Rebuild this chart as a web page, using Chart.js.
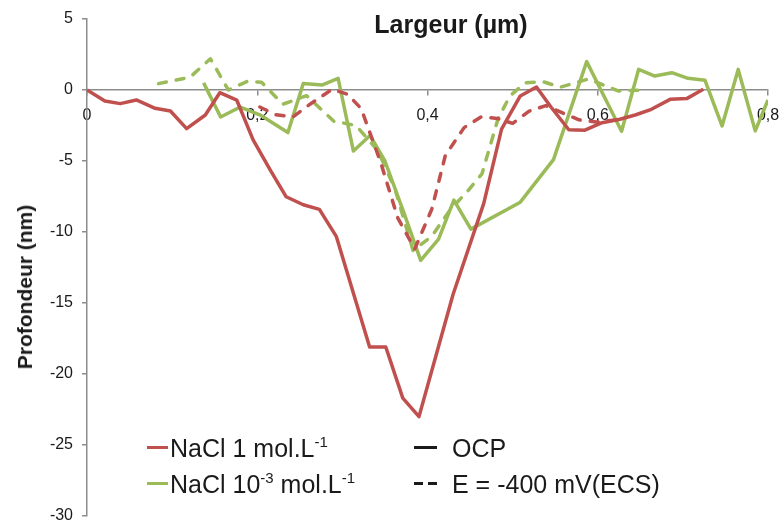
<!DOCTYPE html>
<html>
<head>
<meta charset="utf-8">
<script src="https://cdn.jsdelivr.net/npm/chart.js@4"></script>
<style>
    body { margin: 0; background: #fff; }
    #wrap { position: relative; width: 779px; height: 520px; font-family: "Liberation Sans", Arial, sans-serif; color: #1a1a1a; }
    #profil { position: absolute; left: 0; top: 0; }
    .titre { position: absolute; font-weight: bold; white-space: nowrap; }
    #titreX { left: 451px; top: 24px; font-size: 25px; transform: translate(-50%, -50%); }
    #titreY { left: 25px; top: 287px; font-size: 21px; transform: translate(-50%, -50%) rotate(-90deg); }
    .leg { position: absolute; font-size: 25px; white-space: nowrap; line-height: 1; transform: translateY(-50%); }
    .leg sup { font-size: 15px; vertical-align: 10px; line-height: 0; }
    .trait { position: absolute; height: 0; }
</style>
</head>
<body>
<div id="wrap">
    <canvas id="profil" width="779" height="520"></canvas>
    <div class="titre" id="titreX">Largeur (µm)</div>
    <div class="titre" id="titreY">Profondeur (nm)</div>

    <div class="trait" style="left:147px; top:446px; width:21px; border-top:3.5px solid #C0504D;"></div>
    <div class="leg" style="left:170px; top:448px;">NaCl 1 mol.L<sup>-1</sup></div>
    <div class="trait" style="left:147px; top:482px; width:21px; border-top:3.5px solid #9BBB59;"></div>
    <div class="leg" style="left:170px; top:484px;">NaCl 10<sup>-3</sup> mol.L<sup>-1</sup></div>

    <div class="trait" style="left:414px; top:446px; width:23px; border-top:3px solid #1a1a1a;"></div>
    <div class="leg" style="left:452px; top:448px;">OCP</div>
    <div class="trait" style="left:414px; top:482px; width:9px; border-top:3px solid #1a1a1a;"></div>
    <div class="trait" style="left:428px; top:482px; width:9px; border-top:3px solid #1a1a1a;"></div>
    <div class="leg" style="left:452px; top:484px;">E = -400 mV(ECS)</div>
</div>

<script>
// ============== DONNEES ==============

// NaCl 1 mol/L - OCP (trait plein rouge)
const naclFortOcpX = [0, 0.021, 0.039, 0.058, 0.080, 0.098, 0.117, 0.139, 0.156, 0.176, 0.195, 0.215, 0.234, 0.254, 0.273, 0.293, 0.332, 0.351, 0.371, 0.390, 0.410, 0.430, 0.466, 0.487, 0.509, 0.528, 0.545, 0.566, 0.585, 0.605, 0.626, 0.644, 0.663, 0.685, 0.705, 0.724];
const naclFortOcpY = [0, -0.77, -0.96, -0.70, -1.29, -1.48, -2.72, -1.76, -0.19, -0.72, -3.5, -5.6, -7.52, -8.08, -8.41, -10.33, -18.1, -18.1, -21.7, -23.0, -18.7, -14.4, -8.0, -2.76, -0.42, 0.21, -1.2, -2.8, -2.83, -2.3, -2.06, -1.76, -1.36, -0.66, -0.59, 0.05];

// NaCl 1 mol/L - E = -400 mV (tirets rouges)
const naclFortPotX = [0.203, 0.222, 0.242, 0.262, 0.288, 0.306, 0.322, 0.345, 0.365, 0.385, 0.405, 0.421, 0.443, 0.463, 0.482, 0.500, 0.519, 0.539, 0.558, 0.578, 0.598, 0.625];
const naclFortPotY = [-1.2, -1.75, -1.9, -1.0, 0.05, -0.3, -1.3, -5.1, -9.0, -11.2, -8.4, -4.6, -2.65, -1.9, -2.0, -2.35, -1.5, -1.1, -1.6, -2.1, -2.25, -2.1];

// NaCl 10-3 mol/L - OCP (trait plein vert)
const naclFaibleOcpX = [0.137, 0.157, 0.180, 0.203, 0.236, 0.254, 0.276, 0.295, 0.313, 0.3325, 0.350, 0.372, 0.392, 0.413, 0.431, 0.451, 0.509, 0.548, 0.587, 0.628, 0.648, 0.667, 0.687, 0.706, 0.726, 0.746, 0.765, 0.785, 0.800];
const naclFaibleOcpY = [0.5, -1.9, -1.2, -1.75, -3.0, 0.45, 0.35, 0.82, -4.3, -3.2, -5.0, -8.6, -12.0, -10.5, -7.75, -9.8, -7.9, -4.9, 2.0, -2.9, 1.45, 0.98, 1.22, 0.82, 0.68, -2.53, 1.45, -2.88, -0.7];

// NaCl 10-3 mol/L - E = -400 mV (tirets verts)
const naclFaiblePotX = [0.084, 0.121, 0.145, 0.166, 0.188, 0.205, 0.230, 0.258, 0.290, 0.316, 0.342, 0.362, 0.383, 0.405, 0.427, 0.446, 0.464, 0.483, 0.497, 0.515, 0.535, 0.556, 0.589, 0.624, 0.652];
const naclFaiblePotY = [0.45, 0.9, 2.2, 0.0, 0.6, 0.55, -1.0, -0.4, -2.2, -2.5, -4.3, -7.0, -11.3, -10.3, -8.4, -7.2, -5.9, -2.0, -0.4, 0.5, 0.6, 0.2, 0.77, -0.07, 0.0];

// Graduations
const xMin = 0, xMax = 0.8, xStep = 0.2;
const yMin = -30, yMax = 5, yStep = 5;

const ROUGE = '#C0504D';
const VERT = '#9BBB59';
const GRIS = '#8c8c8c';

// Assemble x/y arrays into points
function points(xs, ys) {
    return xs.map((x, i) => ({ x: x, y: ys[i] }));
}

function serie(label, xs, ys, color, dashed) {
    return {
        label: label,
        data: points(xs, ys),
        borderColor: color,
        backgroundColor: color,
        borderWidth: 3.5,
        borderDash: dashed ? [8, 10] : [],
        borderCapStyle: dashed ? 'round' : 'butt',
        borderJoinStyle: 'round',
        pointRadius: 0,
        tension: 0,
        fill: false
    };
}

// French decimal comma on x labels
function virgule(value) {
    const v = Math.round(value * 10) / 10;
    return v === 0 ? '0' : String(v).replace('.', ',');
}

document.addEventListener('DOMContentLoaded', () => {
    const ctx = document.getElementById('profil').getContext('2d');

    new Chart(ctx, {
        type: 'line',
        data: {
            datasets: [
                serie('NaCl 1 OCP', naclFortOcpX, naclFortOcpY, ROUGE, false),
                serie('NaCl 1 -400mV', naclFortPotX, naclFortPotY, ROUGE, true),
                serie('NaCl 1e-3 -400mV', naclFaiblePotX, naclFaiblePotY, VERT, true),
                serie('NaCl 1e-3 OCP', naclFaibleOcpX, naclFaibleOcpY, VERT, false)
            ]
        },
        options: {
            responsive: false,
            animation: false,
            devicePixelRatio: 1,
            layout: { padding: { top: 19, right: 11, bottom: 4, left: 0 } },
            plugins: {
                legend: { display: false },
                tooltip: { enabled: false }
            },
            scales: {
                x: {
                    type: 'linear',
                    min: xMin,
                    max: xMax,
                    position: { y: 0 },
                    // axis sits on y = 0, so it must not eat layout space
                    afterFit: (scale) => {
                        scale.height = 0;
                        scale.paddingLeft = 0;
                        scale.paddingRight = 0;
                    },
                    border: { display: true, color: GRIS, width: 1.5 },
                    grid: { drawOnChartArea: false, drawTicks: true, tickLength: 5, color: GRIS, lineWidth: 1.5 },
                    ticks: {
                        stepSize: xStep,
                        padding: 11,
                        maxRotation: 0,
                        color: '#1a1a1a',
                        font: { family: '"Liberation Sans", Arial, sans-serif', size: 16 },
                        callback: virgule
                    }
                },
                y: {
                    type: 'linear',
                    min: yMin,
                    max: yMax,
                    position: 'left',
                    afterFit: (scale) => {
                        scale.width = 87;
                        scale.paddingTop = 0;
                        scale.paddingBottom = 0;
                    },
                    border: { display: true, color: GRIS, width: 1.5 },
                    grid: { drawOnChartArea: false, drawTicks: true, tickLength: 5, color: GRIS, lineWidth: 1.5 },
                    ticks: {
                        stepSize: yStep,
                        padding: 9,
                        color: '#1a1a1a',
                        font: { family: '"Liberation Sans", Arial, sans-serif', size: 16 }
                    }
                }
            }
        }
    });
});
</script>
</body>
</html>
